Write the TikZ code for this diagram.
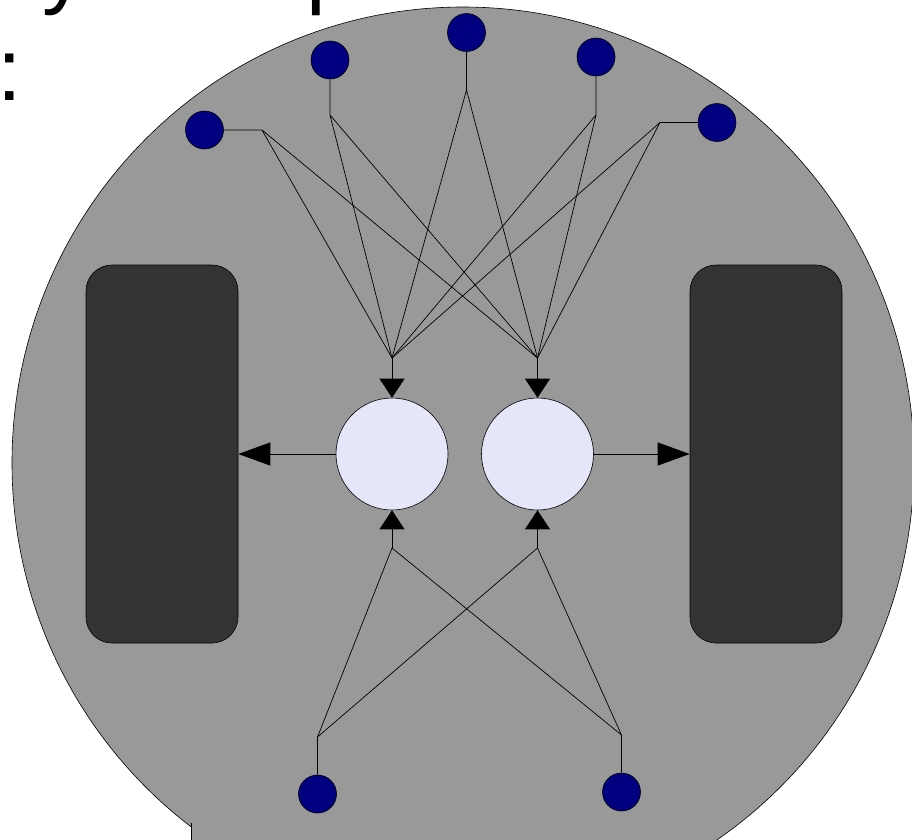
\documentclass[tikz,border=0pt]{standalone}
\usepackage{fontspec}
\setmainfont{Liberation Sans}
\usetikzlibrary{arrows.meta}
\definecolor{bodygray}{RGB}{153,153,153}
\definecolor{wheelgray}{RGB}{51,51,51}
\definecolor{motorfill}{RGB}{230,230,250}
\definecolor{sensorfill}{RGB}{0,0,128}
\tikzset{
  sensor/.style={circle, draw=black, line width=0.6pt, fill=sensorfill, minimum size=38pt, inner sep=0pt},
  motor/.style={circle, draw=black, line width=0.6pt, fill=motorfill, minimum size=112pt, inner sep=0pt},
  wheel/.style={rectangle, rounded corners=26pt, draw=black, line width=0.6pt, fill=wheelgray, minimum width=152pt, minimum height=378pt, inner sep=0pt},
  wire/.style={draw=black, line width=0.7pt},
  feed/.style={wire, -{Triangle[width=25pt,length=19pt]}},
  drive/.style={wire, -{Triangle[width=23pt,length=32pt]}},
  bigtext/.style={anchor=base west, inner sep=0pt, font=\fontsize{88}{88}\selectfont}
}
\begin{document}
\begin{tikzpicture}[x=1pt, y=-1pt]
\useasboundingbox (0,0) rectangle (912,839);
\clip (0,0) rectangle (912,839);

% heading glyphs running off the top edge
\node[bigtext] (ty) at (42,-3) {y};
\node[bigtext] (tp) at (306,-3) {p};
\node[bigtext] (tc) at (-3,100) {:};

% robot body
\draw[fill=bodygray, line width=0.6pt] (463,463) ellipse [x radius=451pt, y radius=456pt];
\fill[bodygray] (191,827) rectangle (712,845);
\draw[line width=0.7pt] (191,823) -- (191,845);

% wheels
\node[wheel] (wl) at (162,454) {};
\node[wheel] (wr) at (766,454) {};

% motors
\node[motor] (ml) at (392,454) {};
\node[motor] (mr) at (537.5,454) {};

% front sensors
\node[sensor] (s1) at (204.5,130) {};
\node[sensor] (s2) at (330,60) {};
\node[sensor] (s3) at (466.5,32.5) {};
\node[sensor] (s4) at (596,57) {};
\node[sensor] (s5) at (717,122.5) {};
% rear sensors
\node[sensor] (s6) at (317.5,794) {};
\node[sensor] (s7) at (621.5,792) {};

% bends and summing points
\coordinate (b1) at (262,130);
\coordinate (b2) at (330,115);
\coordinate (b3) at (466.5,90);
\coordinate (b4) at (596,115);
\coordinate (b5) at (660,122.5);
\coordinate (b6) at (317.5,737);
\coordinate (b7) at (621.5,735);
\coordinate (jl) at (392,358);
\coordinate (jr) at (537.5,358);
\coordinate (kl) at (392,548);
\coordinate (kr) at (537.5,548);

% front sensor wiring
\draw[wire] (s1) -- (b1) (b1) -- (jl) (b1) -- (jr);
\draw[wire] (s2) -- (b2) (b2) -- (jl) (b2) -- (jr);
\draw[wire] (s3) -- (b3) (b3) -- (jl) (b3) -- (jr);
\draw[wire] (s4) -- (b4) (b4) -- (jl) (b4) -- (jr);
\draw[wire] (s5) -- (b5) (b5) -- (jl) (b5) -- (jr);
% rear sensor wiring
\draw[wire] (s6) -- (b6) (b6) -- (kl) (b6) -- (kr);
\draw[wire] (s7) -- (b7) (b7) -- (kl) (b7) -- (kr);

% inputs into the motors
\draw[feed] (jl) -- (ml.north);
\draw[feed] (jr) -- (mr.north);
\draw[feed] (kl) -- (ml.south);
\draw[feed] (kr) -- (mr.south);

% motors driving the wheels
\draw[drive] (ml.west) -- (wl.east);
\draw[drive] (mr.east) -- (wr.west);
\end{tikzpicture}
\end{document}
